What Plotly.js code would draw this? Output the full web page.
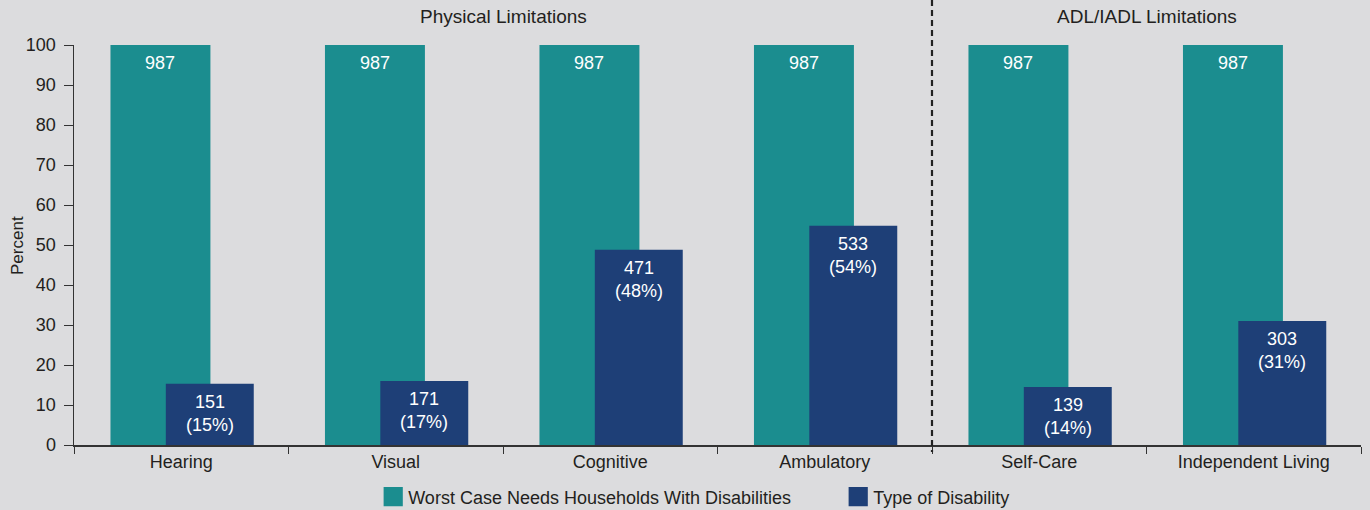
<!DOCTYPE html>
<html>
<head>
<meta charset="utf-8">
<script src="https://cdn.plot.ly/plotly-3.0.1.min.js"></script>
<style>
  html, body { margin: 0; padding: 0; background: #dcdcde; }
  #chart { width: 1370px; height: 510px; }
</style>
</head>
<body>
<div id="chart"></div>
<script>
// ---- data ----
const categories = ["Hearing", "Visual", "Cognitive", "Ambulatory", "Self-Care", "Independent Living"];
const worstCasePercent = [100, 100, 100, 100, 100, 100];
const worstCaseCount = [987, 987, 987, 987, 987, 987];
const typePercent = [15.3, 16.0, 48.8, 54.8, 14.5, 31.0];
const typeCount = [151, 171, 471, 533, 139, 303];
const typePctLabel = [15, 17, 48, 54, 14, 31];
const seriesNames = ["Worst Case Needs Households With Disabilities", "Type of Disability"];
const groupTitles = ["Physical Limitations", "ADL/IADL Limitations"];
const groupCenters = [1.5, 4.5];
const groupDivider = 3.5;
const yTitle = "Percent";

// ---- style ----
const TEAL = "#1b8d8f";
const NAVY = "#1e3f77";
const TEXT = "#231f20";
const FONT = "'Liberation Sans', Arial, Helvetica, sans-serif";
const tealWidth = 0.466, tealOffset = -0.33;
const navyWidth = 0.41, navyOffset = -0.072;

const xIdx = categories.map((c, i) => i);

const traces = [
  {
    type: "bar", name: seriesNames[0], x: xIdx, y: worstCasePercent,
    width: tealWidth, offset: tealOffset,
    marker: { color: TEAL, line: { width: 0 } }, hoverinfo: "skip"
  },
  {
    type: "bar", name: seriesNames[1], x: xIdx, y: typePercent,
    width: navyWidth, offset: navyOffset,
    marker: { color: NAVY, line: { width: 0 } }, hoverinfo: "skip"
  }
];

const annotations = [];
xIdx.forEach(i => {
  annotations.push({
    x: i + tealOffset + tealWidth / 2, y: worstCasePercent[i], xref: "x", yref: "y",
    text: String(worstCaseCount[i]), showarrow: false, yanchor: "top", yshift: -6,
    font: { family: FONT, size: 18, color: "#ffffff" }
  });
  annotations.push({
    x: i + navyOffset + navyWidth / 2, y: typePercent[i], xref: "x", yref: "y",
    text: typeCount[i] + "<br>(" + typePctLabel[i] + "%)", showarrow: false, yanchor: "top", yshift: -6,
    font: { family: FONT, size: 18, color: "#ffffff" }
  });
});
groupTitles.forEach((t, k) => {
  annotations.push({
    x: groupCenters[k], xref: "x", y: 1.07, yref: "paper", text: t, showarrow: false,
    yanchor: "middle", font: { family: FONT, size: 19, color: TEXT }
  });
});
annotations.push({
  x: -0.0443, xref: "paper", y: 0.5, yref: "paper", text: yTitle, textangle: -90,
  showarrow: false, xanchor: "center", yanchor: "middle",
  font: { family: FONT, size: 17, color: TEXT }
});

const layout = {
  width: 1370, height: 510,
  paper_bgcolor: "#dcdcde", plot_bgcolor: "#dcdcde",
  margin: { l: 74, r: 9, t: 45, b: 65, autoexpand: false },
  font: { family: FONT, size: 18, color: TEXT },
  barmode: "overlay",
  showlegend: true,
  legend: {
    orientation: "h", xref: "paper", x: 0.2286, xanchor: "left",
    yref: "container", y: 0.0255, yanchor: "middle",
    entrywidth: 420, entrywidthmode: "pixels",
    font: { family: FONT, size: 18, color: TEXT }, bgcolor: "rgba(0,0,0,0)",
    traceorder: "normal"
  },
  xaxis: {
    type: "category", range: [-0.5, 5.5],
    tickmode: "array", tickvals: xIdx, ticktext: categories,
    tickson: "boundaries", ticks: "outside", ticklen: 7, tickcolor: "#333",
    showline: true, linecolor: "#333", linewidth: 1.5,
    showgrid: false, zeroline: false, fixedrange: true,
    tickfont: { family: FONT, size: 18, color: TEXT }
  },
  yaxis: {
    range: [0, 100], dtick: 10, tick0: 0,
    ticks: "outside", ticklen: 9, tickcolor: "#333", ticklabelstandoff: 4,
    showline: true, linecolor: "#333", linewidth: 1.5,
    showgrid: false, zeroline: false, fixedrange: true,
    tickfont: { family: FONT, size: 18, color: TEXT }
  },
  shapes: [{
    type: "line", xref: "x", yref: "paper",
    x0: groupDivider, x1: groupDivider, y0: 1.1125, y1: -0.0175,
    line: { color: "#222", width: 2.2, dash: "6px,4px" }
  }],
  annotations: annotations
};

Plotly.newPlot("chart", traces, layout, { displayModeBar: false, staticPlot: true }).then(gd => {
  gd.querySelectorAll(".legend .legendpoints path").forEach(p => {
    p.setAttribute("transform", "translate(25,0) scale(1.6)");
  });
});
</script>
</body>
</html>
